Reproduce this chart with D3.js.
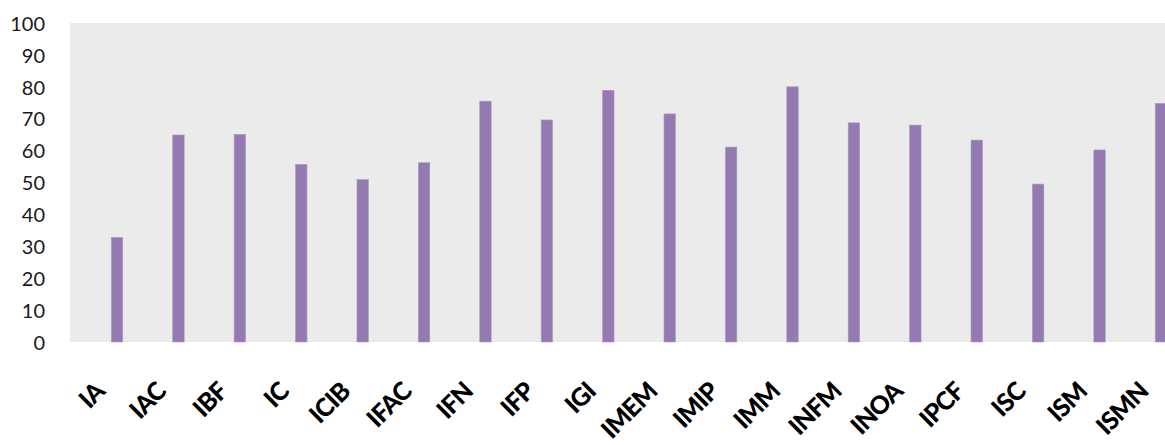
<!DOCTYPE html>
<html>
<head>
<meta charset="utf-8">
<script src="https://cdn.jsdelivr.net/npm/d3@7"></script>
<style>
  html, body { margin: 0; padding: 0; background: #ffffff; }
  svg { display: block; }
</style>
</head>
<body>
<svg id="chart" width="1165" height="445"></svg>
<script>
// Institute codes along the category axis
const institutes = ["IA", "IAC", "IBF", "IC", "ICIB", "IFAC", "IFN", "IFP", "IGI",
  "IMEM", "IMIP", "IMM", "INFM", "INOA", "IPCF", "ISC", "ISM", "ISMN"];

// One value per institute
const scores = [32.8, 64.9, 65.1, 55.7, 50.9, 56.2, 75.5, 69.6, 78.9,
  71.5, 61.1, 80.0, 68.7, 68.0, 63.3, 49.5, 60.2, 74.8];

// Value-axis tick labels
const yTicks = [0, 10, 20, 30, 40, 50, 60, 70, 80, 90, 100];

const svg = d3.select("#chart");
const W = 1165, H = 445;
const plot = { left: 70, top: 23, bottom: 342, right: 1165 };

const x = d3.scaleBand()
  .domain(institutes)
  .range([plot.left, 1208])
  .paddingInner(0.814)
  .paddingOuter(0.673);

const y = d3.scaleLinear().domain([0, 100]).range([plot.bottom, plot.top]);

svg.append("rect").attr("width", W).attr("height", H).attr("fill", "#ffffff");

// Plot background
svg.append("rect")
  .attr("x", plot.left).attr("y", plot.top)
  .attr("width", plot.right - plot.left)
  .attr("height", plot.bottom - plot.top)
  .attr("fill", "#ebebeb");

// Bars
svg.append("g")
  .selectAll("rect")
  .data(institutes)
  .join("rect")
  .attr("x", (d) => x(d))
  .attr("y", (d, i) => y(scores[i]))
  .attr("width", x.bandwidth())
  .attr("height", (d, i) => y(0) - y(scores[i]))
  .attr("fill", "#937bb2")
  .attr("stroke", "#ab98c4")
  .attr("stroke-width", 0.6);

// Value axis (labels only)
const yAxis = d3.axisLeft(y).tickValues(yTicks).tickSize(0).tickPadding(0);
const yg = svg.append("g").attr("transform", "translate(45,0)").call(yAxis);
yg.select(".domain").remove();
yg.selectAll("text")
  .attr("font-family", "Lato, 'Open Sans', sans-serif")
  .attr("font-size", 20)
  .attr("fill", "#1a1a1a")
  .attr("dy", "0.36em");

// Category axis (rotated bold labels)
const xAxis = d3.axisBottom(x).tickSize(0).tickPadding(0);
const xg = svg.append("g").attr("transform", "translate(0,393)").call(xAxis);
xg.select(".domain").remove();
xg.selectAll("text")
  .attr("font-family", "Lato, 'Open Sans', sans-serif")
  .attr("font-weight", 900)
  .attr("font-size", 25)
  .attr("letter-spacing", "-0.8px")
  .attr("fill", "#000000")
  .attr("text-anchor", "end")
  .attr("y", 0)
  .attr("dy", 0)
  .attr("transform", "translate(-11,0) rotate(-45)");
</script>
</body>
</html>
